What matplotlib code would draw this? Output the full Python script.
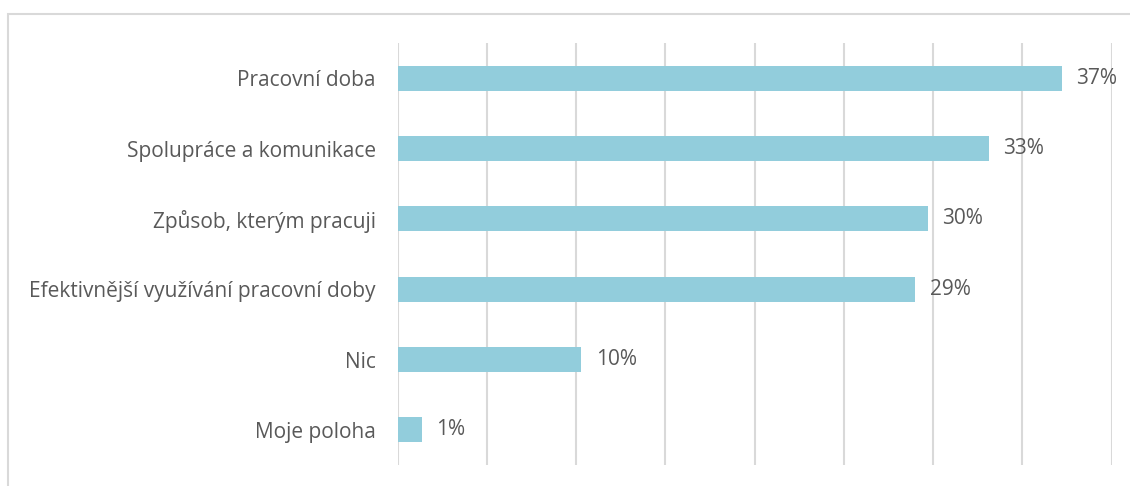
import matplotlib
matplotlib.use("Agg")
import matplotlib.pyplot as plt
from matplotlib.patches import Rectangle

# data
categories = ["Pracovní doba", "Spolupráce a komunikace", "Způsob, kterým pracuji",
              "Efektivnější využívání pracovní doby", "Nic", "Moje poloha"]
values = [37.2, 33.1, 29.7, 29.0, 10.3, 1.35]
labels = ["37%", "33%", "30%", "29%", "10%", "1%"]

bar_color = "#92CDDC"
grid_color = "#D9D9D9"
text_color = "#595959"

plt.rcParams["font.family"] = ["Open Sans", "DejaVu Sans"]

fig = plt.figure(figsize=(11.3, 4.86), dpi=100)
# chart frame (cut off on right and bottom in the reference)
fig.patches.append(Rectangle((8 / 1130, -0.1), 1.2, 1 - 14 / 486 + 0.1,
                             transform=fig.transFigure, fill=False,
                             edgecolor=grid_color, linewidth=1.5))

ax = fig.add_axes([397.5 / 1130, 21 / 486, (1111.7 - 397.5) / 1130, (465 - 43) / 486])

y = list(range(len(categories)))
ax.barh(y, values, height=0.355, color=bar_color, zorder=2)
for yi, v, lab in zip(y, values, labels):
    ax.text(v + 0.8, yi, lab, va="center", ha="left", fontsize=15, color=text_color)

ax.set_xlim(0, 40)
ax.set_ylim(len(categories) - 0.5, -0.5)
ax.set_xticks(range(0, 45, 5))
ax.xaxis.grid(True, color=grid_color, linewidth=1.5, zorder=0)
ax.tick_params(axis="x", length=0, labelbottom=False)
ax.set_yticks(y)
ax.set_yticklabels(categories, fontsize=15, color=text_color)
ax.tick_params(axis="y", length=0, pad=15.5)
for s in ax.spines.values():
    s.set_visible(False)

fig.savefig("out.png", dpi=100)
